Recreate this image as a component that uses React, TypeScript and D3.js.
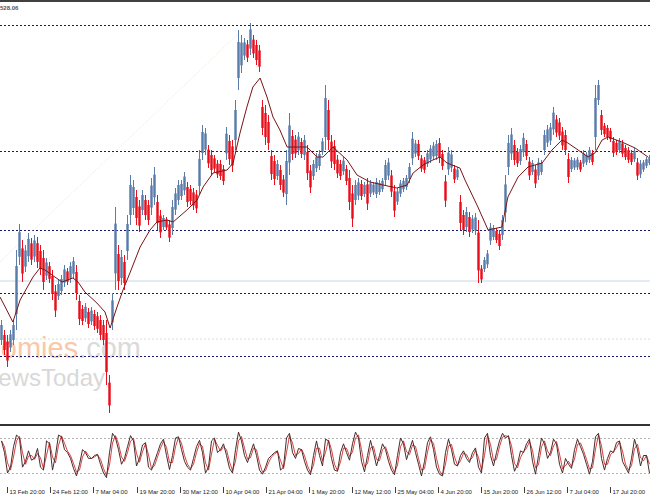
import React from "react";
import * as d3 from "d3";

// ---- price bars (one entry per bin, ~3 H4 bars each) ----
const highs = [1211,1201,1196,1201,1211,1281,1307,1291,1286,1298,1293,1296,1294,1286,1281,1273,1269,1261,1246,1251,1256,1266,1263,1269,1274,1266,1236,1226,1228,1223,1224,1221,1219,1216,1211,1211,1156,1238,1324,1286,1281,1276,1316,1356,1351,1341,1331,1341,1336,1331,1353,1364,1336,1321,1316,1314,1311,1331,1343,1351,1351,1359,1349,1346,1343,1341,1381,1406,1403,1386,1381,1376,1371,1371,1366,1404,1396,1391,1431,1501,1496,1493,1491,1508,1496,1491,1486,1431,1426,1416,1381,1376,1371,1366,1356,1381,1418,1401,1396,1399,1393,1396,1386,1366,1371,1378,1381,1393,1446,1431,1396,1391,1376,1371,1374,1366,1361,1346,1351,1353,1351,1349,1353,1351,1349,1353,1351,1353,1371,1373,1361,1346,1343,1351,1353,1356,1368,1399,1391,1391,1376,1374,1381,1386,1389,1391,1393,1381,1356,1384,1381,1366,1364,1336,1321,1324,1319,1316,1318,1311,1266,1274,1281,1308,1306,1303,1301,1316,1356,1396,1403,1391,1383,1386,1398,1391,1374,1371,1366,1373,1371,1401,1406,1408,1424,1416,1413,1404,1401,1378,1374,1373,1374,1371,1381,1379,1384,1381,1446,1451,1421,1408,1406,1403,1394,1391,1393,1391,1386,1384,1381,1383,1373,1371,1371,1374,1376];
const lows = [1186,1176,1164,1179,1186,1201,1266,1249,1259,1269,1266,1269,1263,1256,1241,1251,1248,1231,1214,1231,1236,1244,1246,1248,1253,1231,1206,1206,1209,1203,1206,1201,1198,1191,1186,1146,1118,1201,1241,1241,1246,1241,1271,1306,1316,1306,1299,1316,1311,1306,1316,1326,1301,1293,1301,1301,1289,1296,1316,1326,1331,1336,1324,1326,1321,1318,1336,1371,1376,1363,1356,1359,1353,1351,1346,1371,1366,1359,1381,1441,1458,1471,1469,1476,1473,1466,1459,1396,1386,1381,1351,1346,1351,1341,1334,1326,1356,1371,1373,1376,1373,1371,1351,1338,1351,1359,1361,1376,1381,1381,1363,1361,1353,1351,1356,1346,1321,1304,1326,1331,1331,1334,1321,1334,1336,1333,1336,1339,1346,1351,1334,1314,1326,1334,1339,1341,1348,1366,1374,1371,1359,1358,1364,1368,1371,1371,1368,1361,1324,1356,1359,1348,1351,1301,1296,1299,1294,1298,1296,1248,1248,1259,1263,1286,1291,1288,1281,1291,1309,1356,1371,1366,1364,1366,1374,1371,1351,1356,1343,1351,1356,1376,1384,1386,1396,1394,1391,1381,1376,1348,1359,1361,1361,1359,1364,1366,1368,1366,1381,1426,1396,1394,1391,1389,1374,1376,1378,1374,1371,1368,1366,1369,1351,1353,1359,1363,1366];

// ---- moving average ----
const maPos = [-0.5,3.8,6.2,10.5,12.8,14.5,17.8,20.2,23.8,25.5,27.8,31.8,34.5,36.2,38.5,40.5,42.8,46.2,49.5,51.8,55.2,57.2,61.8,65.2,67.2,70.5,75.2,77.2,79.5,81.8,83.8,86.2,88.5,90.5,92.8,95.2,97.2,101.8,105.2,107.2,110.5,115.2,118.5,122.8,127.2,131.8,135.2,137.2,140.5,143.8,146.2,148.5,152.8,154.5,158.8,162.2,166.8,168.8,172.2,175.5,180.2,183.5,186.8,188.8,192.2,195.5,197.8,200.2,202.2,206.8,211.2,215.5];
const maVal = [1234,1209,1231,1254,1263,1261,1254,1249,1253,1249,1239,1228,1219,1203,1224,1241,1258,1284,1301,1309,1311,1309,1321,1331,1344,1358,1361,1368,1398,1424,1444,1453,1434,1414,1401,1384,1384,1384,1374,1374,1384,1371,1356,1349,1346,1343,1346,1358,1366,1371,1374,1368,1363,1351,1324,1301,1304,1334,1354,1364,1368,1381,1391,1388,1381,1374,1378,1391,1394,1389,1383,1374];

// ---- stochastic oscillator main line ----
const osc = [75,55,20,30,65,85,80,30,40,58,42,45,62,30,25,75,70,25,50,85,82,60,55,45,28,15,35,60,55,45,45,50,52,35,20,12,55,88,80,60,35,45,65,84,75,32,45,68,72,30,25,40,55,70,78,50,26,50,80,82,60,40,30,25,45,65,76,55,20,30,75,80,55,60,70,50,28,20,60,90,75,50,38,55,70,50,25,18,30,45,50,55,58,25,30,80,88,55,45,62,60,40,25,17,50,75,50,32,78,75,45,25,23,55,70,55,42,70,90,80,40,22,50,76,55,32,50,70,60,40,25,17,50,80,70,43,60,76,55,35,15,40,72,82,60,30,18,15,55,78,60,35,32,50,58,45,38,55,63,30,20,80,88,50,32,55,75,88,80,84,50,23,35,58,55,70,78,40,18,50,80,70,45,55,78,70,35,20,45,35,28,60,78,65,52,35,18,40,82,88,45,25,45,58,55,72,75,40,30,20,45,78,60,32,50,50,20];
const oscLevels = [80, 20];

// ---- horizontal levels ----
const dashedLevels = [1506, 1380, 1301, 1238, 1175];
const solidLevel = 1250;
const faintLevel = 1192;
const trendFrom = { pos: 0, price: 1269 };
const trendTo = { pos: 80, price: 1499 };
const topPriceLabel = "528.06";

// ---- time axis ----
const tickPos = [2.33,16.7,31,45.7,60,74.3,88.7,103,117.3,131.7,146,160.3,174.7,189,203.3];
const tickLabels = ["13 Feb 20:00","24 Feb 12:00","7 Mar 04:00","19 Mar 20:00","30 Mar 12:00","10 Apr 04:00","21 Apr 04:00","1 May 20:00","12 May 12:00","25 May 04:00","4 Jun 20:00","15 Jun 20:00","26 Jun 12:00","7 Jul 04:00","17 Jul 20:00"];

const W = 650, H = 500;
const RED = "#e8101c";
const BLUE = "#5a7cab";

export default function App() {
  const x = d3.scaleLinear().domain([0, 217]).range([0, 651]);
  const y = d3.scaleLinear().domain([1528, 1116]).range([3, 415]);
  const yo = d3.scaleLinear().domain([0, 100]).range([484.7, 426.3]);

  const maLine = d3.line<number>().x((_, i) => x(maPos[i] + 0.5)).y((d) => y(d))(maVal) || "";
  const oscLine = d3.line<number>().x((_, i) => x(i + 0.5)).y((d) => yo(d))(osc) || "";
  const signal = osc.map((_, i) => d3.mean(osc.slice(Math.max(0, i - 1), i + 1)) as number);
  const sigLine = d3.line<number>().x((_, i) => x(i + 0.5)).y((d) => yo(d))(signal) || "";

  const font = "'Liberation Sans', Arial, sans-serif";

  return (
    <svg width={W} height={H} style={{ position: "absolute", left: 0, top: 0, background: "#fff" }}>
      <rect x={0} y={0} width={W} height={H} fill="#fff" />
      {/* watermark */}
      <text x={141} y={358} textAnchor="end" fontFamily={font} fontSize={29} fill="#f8c8a8">
        Economies<tspan fill="#dadada">.com</tspan>
      </text>
      <text x={105} y={386} textAnchor="end" fontFamily={font} fontSize={24} fill="#d8d8d8">NewsToday</text>

      {/* level lines */}
      <line x1={0} x2={W} y1={y(solidLevel)} y2={y(solidLevel)} stroke="#c8d6e4" strokeWidth={1} />
      <line x1={0} x2={W} y1={y(faintLevel)} y2={y(faintLevel)} stroke="#dcdcdc" strokeWidth={1} strokeDasharray="2,2" />
      {dashedLevels.map((p, i) => (
        <line key={i} x1={0} x2={W} y1={Math.round(y(p)) + 0.5} y2={Math.round(y(p)) + 0.5} stroke="#1a1a6a" strokeWidth={1} strokeDasharray="2,2" />
      ))}
      <line x1={x(trendFrom.pos)} y1={y(trendFrom.price)} x2={x(trendTo.pos)} y2={y(trendTo.price)} stroke="#eadfd6" strokeWidth={1} strokeDasharray="1,2" />

      {/* bars: 1px wick over the full bin range, wider body over its core */}
      {highs.map((h, i) => {
        const lo = lows[i];
        const mid = (h + lo) / 2;
        const prev = i > 0 ? (highs[i - 1] + lows[i - 1]) / 2 : mid;
        const col = mid >= prev ? BLUE : RED;
        const yH = y(h), yL = y(lo);
        const span = yL - yH;
        return (
          <g key={i}>
            <rect x={x(i) + 1} y={yH} width={1} height={Math.max(1, span)} fill={col} />
            <rect x={x(i) + 0.2} y={yH + span * 0.2} width={2.6} height={Math.max(1, span * 0.6)} fill={col} fillOpacity={0.9} />
          </g>
        );
      })}
      <path d={maLine} fill="none" stroke="#7a1414" strokeWidth={1} />

      {/* frame */}
      <line x1={0} x2={W} y1={1} y2={1} stroke="#404040" strokeWidth={2} />
      <text x={0} y={10} fontFamily={font} fontSize={6} fill="#555" fontWeight="bold">{topPriceLabel}</text>

      {/* oscillator panel */}
      <line x1={0} x2={W} y1={425} y2={425} stroke="#333" strokeWidth={2} />
      {oscLevels.map((l) => (
        <line key={l} x1={0} x2={W} y1={Math.round(yo(l)) + 0.5} y2={Math.round(yo(l)) + 0.5} stroke="#b4b4b4" strokeWidth={1} strokeDasharray="2,2" />
      ))}
      <path d={sigLine} fill="none" stroke="#d01010" strokeWidth={1} strokeOpacity={0.8} />
      <path d={oscLine} fill="none" stroke="#4a2a2a" strokeWidth={1} />

      {/* time axis */}
      {tickPos.map((p, i) => (
        <g key={i}>
          <line x1={Math.round(x(p)) + 0.5} x2={Math.round(x(p)) + 0.5} y1={487} y2={493} stroke="#404040" strokeWidth={1} />
          <text x={x(p) + 2.5} y={494} fontFamily={font} fontSize={6} fill="#222">{tickLabels[i]}</text>
        </g>
      ))}
    </svg>
  );
}
